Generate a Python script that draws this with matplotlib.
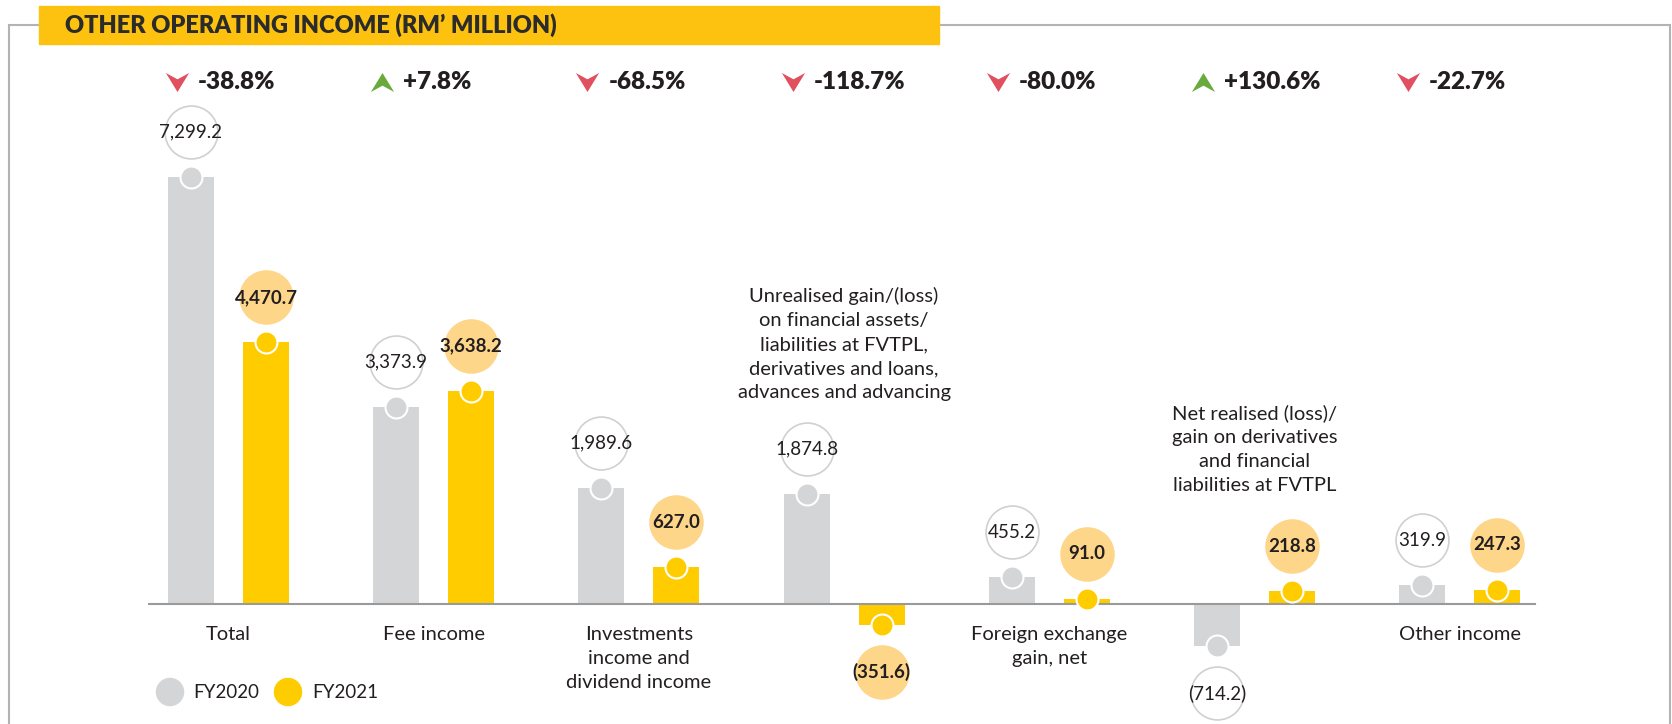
import matplotlib.pyplot as plt
from matplotlib.patches import Rectangle
from matplotlib.transforms import offset_copy, blended_transform_factory

plt.rcParams['font.family'] = ['Lato', 'DejaVu Sans']

categories = ["Total", "Fee income", "Investments\nincome and\ndividend income",
              "Unrealised gain/(loss)\non financial assets/\nliabilities at FVTPL,\nderivatives and loans,\nadvances and advancing",
              "Foreign exchange\ngain, net",
              "Net realised (loss)/\ngain on derivatives\nand financial\nliabilities at FVTPL",
              "Other income"]
label_above = [False, False, False, True, False, True, False]
fy2020 = [7299.2, 3373.9, 1989.6, 1874.8, 455.2, -714.2, 319.9]
fy2021 = [4470.7, 3638.2, 627.0, -351.6, 91.0, 218.8, 247.3]
changes = ["-38.8%", "+7.8%", "-68.5%", "-118.7%", "-80.0%", "+130.6%", "-22.7%"]

W, H = 1672, 724
GRAY = '#d4d5d7'
YELLOW = '#ffcc00'
PEACH = '#fed68a'
TXT = '#231f20'
RED = '#e0505e'
GREEN = '#6aaa3c'

fig = plt.figure(figsize=(W / 100, H / 100), dpi=100)
ax = fig.add_axes([0, 0, 1, 1])
ax.axis('off')

# pixel layout: zero line at y=604px, 0.0585 px per RM million, groups 205px apart
scale = 0.0585
zero_px = 604
ax.set_ylim(-(H - zero_px) / scale, zero_px / scale)
step = 205.2
x0 = 228.5
ax.set_xlim(-x0 / step, (W - x0) / step)

off = 37.5 / step
bw = 46 / step
x = list(range(len(categories)))
x20 = [i - off for i in x]
x21 = [i + off for i in x]

# frame and title
fig.patches.append(Rectangle((8.5 / W, -0.1), (1670 - 8.5) / W, 1.1 - 25 / H,
                             transform=fig.transFigure, fill=False,
                             edgecolor='#b3b3b3', lw=1.5, zorder=0))
fig.patches.append(Rectangle((39 / W, 1 - 44 / H), 900 / W, 38 / H,
                             transform=fig.transFigure, color='#fdc20f', zorder=1))
fig.text(65 / W, 1 - 25 / H, "OTHER OPERATING INCOME (RM’ MILLION)", fontsize=17,
         fontweight='heavy', color='#2b2b2b', va='center', ha='left', zorder=2)

ax.bar(x20, fy2020, width=bw, color=GRAY, zorder=2)
ax.bar(x21, fy2021, width=bw, color=YELLOW, zorder=2)
ax.axhline(0, xmin=149 / W, xmax=1535 / W, color='#9a9a9a', lw=1.5, zorder=3)

ax.scatter(x20, fy2020, s=250, color=GRAY, edgecolor='white', linewidth=1.5, zorder=4)
ax.scatter(x21, fy2021, s=250, color=YELLOW, edgecolor='white', linewidth=1.5, zorder=4)

up = offset_copy(ax.transData, fig=fig, x=0, y=45, units='dots')
down = offset_copy(ax.transData, fig=fig, x=0, y=-47, units='dots')


def fmt(v):
    return f"{v:,.1f}" if v >= 0 else f"({-v:,.1f})"


for xs, vals, face, edge, weight in [(x20, fy2020, 'white', '#d0d0d0', 'normal'),
                                     (x21, fy2021, PEACH, PEACH, 'bold')]:
    for xi, v in zip(xs, vals):
        tr = up if v >= 0 else down
        ax.scatter([xi], [v], s=1450, color=face, edgecolor=edge, linewidth=1.2,
                   transform=tr, zorder=4)
        ax.text(xi, v, fmt(v), transform=tr, ha='center', va='center',
                fontsize=13.5, fontweight=weight, color=TXT, zorder=5)

# change labels
yt = blended_transform_factory(ax.transData, ax.transAxes)
y_chg = 1 - 82 / H
arrow_tr = offset_copy(yt, fig=fig, x=-14, y=0, units='dots')
text_tr = offset_copy(yt, fig=fig, x=7, y=0, units='dots')
down_mk = [(-1.1, 0.9), (0, 0.3), (1.1, 0.9), (0, -0.9), (-1.1, 0.9)]
up_mk = [(-1.1, -0.9), (0, -0.3), (1.1, -0.9), (0, 0.9), (-1.1, -0.9)]
for xi, c in zip(x20, changes):
    pos = c.startswith('+')
    ax.scatter([xi], [y_chg], marker=up_mk if pos else down_mk, s=280,
               color=GREEN if pos else RED, linewidth=0, transform=arrow_tr, zorder=5)
    ax.text(xi, y_chg, c, transform=text_tr, ha='left', va='center', fontsize=17.5,
            fontweight='heavy', color=TXT)

# category labels
for i, (cat, above) in enumerate(zip(categories, label_above)):
    if above:
        yc = 344 if i == 3 else 449
        ax.text(i, 1 - yc / H, cat, transform=yt, ha='center', va='center',
                fontsize=14.5, color=TXT, linespacing=1.5)
    else:
        ax.text(i, 1 - 626 / H, cat, transform=yt, ha='center', va='top',
                fontsize=14.5, color=TXT, linespacing=1.5)

# legend
ax.scatter([170 / W, 288 / W], [1 - 692 / H] * 2, s=380, color=[GRAY, YELLOW],
           transform=ax.transAxes, zorder=5)
ax.text(193 / W, 1 - 692 / H, "FY2020", transform=ax.transAxes, va='center',
        fontsize=13.5, color=TXT)
ax.text(312 / W, 1 - 692 / H, "FY2021", transform=ax.transAxes, va='center',
        fontsize=13.5, color=TXT)

fig.savefig('out.png', dpi=100, facecolor='white')
